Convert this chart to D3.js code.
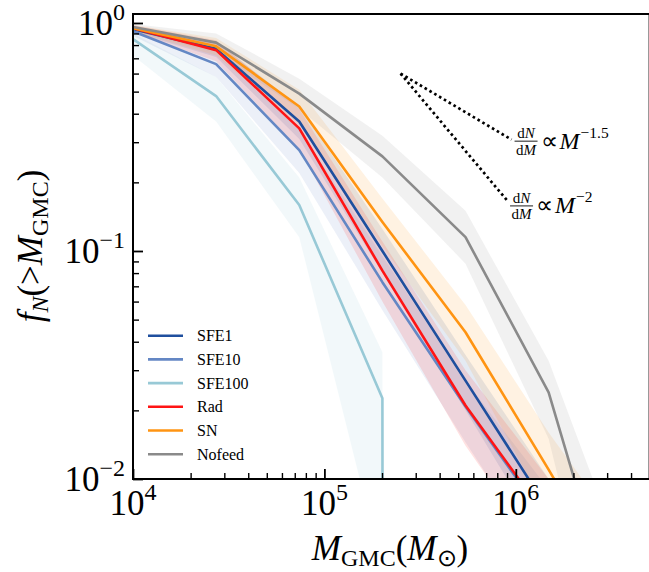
<!DOCTYPE html>
<html><head><meta charset="utf-8">
<script src="https://cdn.jsdelivr.net/npm/d3@7"></script>
<style>
body{margin:0;background:#fff}
svg{display:block}
text{font-family:"Liberation Serif","Times New Roman",serif;fill:#000}
</style>
</head><body><svg id="c" width="649" height="572"></svg>
<script>
// ---- data ----
const masses = [1.0e4, 2.718e4, 7.389e4, 2.009e5, 5.46e5, 1.484e6, 4.034e6];
const seriesNames = ["SFE1", "SFE10", "SFE100", "Rad", "SN", "Nofeed"];
const seriesColors = ["#1f4f9e", "#6487c4", "#98c9d6", "#ff1414", "#ff9412", "#8a8a8a"];

const sfe1   = [0.94, 0.77, 0.37, 0.100, 0.027, 0.0073, 0.002];
const sfe1Lo = [0.91, 0.71, 0.31, 0.080, 0.020, 0.0050, 0.001];
const sfe1Hi = [0.97, 0.83, 0.43, 0.125, 0.035, 0.0100, 0.003];

const sfe10   = [0.92, 0.66, 0.277, 0.073, 0.0208, 0.0064, 0.0018];
const sfe10Lo = [0.88, 0.58, 0.220, 0.055, 0.0145, 0.0040, 0.0010];
const sfe10Hi = [0.96, 0.74, 0.340, 0.095, 0.0270, 0.0090, 0.0030];

const sfe100   = [0.85, 0.478, 0.159, 0.0226, 0, 0, 0];
const sfe100Lo = [0.72, 0.370, 0.115, 0.0040, 0, 0, 0];
const sfe100Hi = [0.90, 0.580, 0.210, 0.0360, 0, 0, 0];

const rad   = [0.95, 0.76, 0.345, 0.082, 0.021, 0.0066, 0.002];
const radLo = [0.91, 0.68, 0.280, 0.060, 0.014, 0.0042, 0.001];
const radHi = [0.98, 0.84, 0.420, 0.110, 0.030, 0.0100, 0.004];

const sn   = [0.95, 0.79, 0.43, 0.134, 0.044, 0.011, 0.0026];
const snLo = [0.92, 0.72, 0.36, 0.105, 0.033, 0.007, 0.0010];
const snHi = [0.98, 0.86, 0.51, 0.170, 0.058, 0.016, 0.0050];

const nofeed   = [0.96, 0.82, 0.49, 0.26, 0.115, 0.024, 0.0014];
const nofeedLo = [0.93, 0.74, 0.42, 0.21, 0.088, 0.015, 0.0005];
const nofeedHi = [0.99, 0.90, 0.57, 0.32, 0.150, 0.033, 0.0035];

const seriesValues = [sfe1, sfe10, sfe100, rad, sn, nofeed];
const seriesLo = [sfe1Lo, sfe10Lo, sfe100Lo, radLo, snLo, nofeedLo];
const seriesHi = [sfe1Hi, sfe10Hi, sfe100Hi, radHi, snHi, nofeedHi];

const xMajor = [1e4, 1e5, 1e6];
const xMajorExp = ["4", "5", "6"];
const yMajor = [1, 0.1, 0.01];
const yMajorExp = ["0", "\u22121", "\u22122"];

// power-law reference lines: start point and end mass, slope of cumulative
const refStart = [2.5e5, 0.6];
const refEnds = [9.5e5, 9.0e5];
const refSlopes = [-0.5, -1.0];
const refExpLabels = ["\u22121.5", "\u22122"];

// ---- layout ----
const svg = d3.select("#c");
const L = 133, T = 14, B = 479, R = 649.6;
const x = d3.scaleLog().domain([1e4, 5e6]).range([L, R]);
const y = d3.scaleLog().domain([0.01, 1.095]).range([B, T]);
const yv = v => y(Math.max(v, 1e-300));

svg.append("defs").append("clipPath").attr("id", "clip")
  .append("rect").attr("x", L).attr("y", T).attr("width", R - L).attr("height", B - T);

const plot = svg.append("g").attr("clip-path", "url(#clip)");

// bands
seriesNames.forEach((n, i) => {
  const area = d3.area()
    .x((d, j) => x(masses[j]))
    .y0((d, j) => yv(seriesLo[i][j]))
    .y1((d, j) => yv(seriesHi[i][j]));
  plot.append("path").attr("d", area(masses))
    .attr("fill", seriesColors[i]).attr("fill-opacity", 0.12).attr("stroke", "none");
});
// lines
seriesNames.forEach((n, i) => {
  const line = d3.line().x((d, j) => x(masses[j])).y((d, j) => yv(seriesValues[i][j]));
  plot.append("path").attr("d", line(masses))
    .attr("fill", "none").attr("stroke", seriesColors[i]).attr("stroke-width", 2.6)
    .attr("stroke-linejoin", "round");
});

// reference dotted lines
const refEndPts = [];
refEnds.forEach((xe, k) => {
  const pts = [refStart, [xe, refStart[1] * Math.pow(xe / refStart[0], refSlopes[k])]];
  refEndPts.push(pts[1]);
  plot.append("path").attr("d", d3.line().x(d => x(d[0])).y(d => y(d[1]))(pts))
    .attr("fill", "none").attr("stroke", "#000").attr("stroke-width", 2.7)
    .attr("stroke-dasharray", "2.6,3");
});

// annotation text
refEndPts.forEach((p, k) => {
  const px = x(p[0]) + 3, py = y(p[1]) + (k === 0 ? 1.5 : 5.5);
  const g = svg.append("g").attr("transform", `translate(${px},${py})`);
  g.append("text").attr("x", 11.5).attr("y", -3).attr("text-anchor", "middle").attr("font-size", 15)
    .html('d<tspan font-style="italic">N</tspan>');
  g.append("line").attr("x1", 0).attr("x2", 23).attr("y1", 0).attr("y2", 0).attr("stroke", "#000").attr("stroke-width", 0.9);
  g.append("text").attr("x", 11.5).attr("y", 13.5).attr("text-anchor", "middle").attr("font-size", 15)
    .html('d<tspan font-style="italic">M</tspan>');
  const t = g.append("text").attr("x", 26).attr("y", 7.5).attr("font-size", 24);
  t.append("tspan").text("\u221D");
  t.append("tspan").attr("font-style", "italic").attr("dx", 2).text("M");
  t.append("tspan").attr("font-size", 15.5).attr("dy", -11).attr("dx", 1).text(refExpLabels[k]);
});

// axes ticks (inward)
const xMinor = [];
[1e4, 1e5, 1e6].forEach(d => { for (let m = 2; m <= 9; m++) { const v = d * m; if (v < 5e6) xMinor.push(v); } });
const yMinor = [];
[0.01, 0.1].forEach(d => { for (let m = 2; m <= 9; m++) yMinor.push(d * m); });

const axB = svg.append("g").attr("transform", `translate(0,${B})`);
axB.call(d3.axisBottom(x).tickValues(xMajor).tickSize(-10).tickFormat(""));
axB.call(g => g.selectAll(".tick line").attr("stroke-width", 1.8));
const axBm = svg.append("g").attr("transform", `translate(0,${B})`);
axBm.call(d3.axisBottom(x).tickValues(xMinor).tickSize(-6).tickFormat(""));
axBm.call(g => g.selectAll(".tick line").attr("stroke-width", 1.4));

const axL = svg.append("g").attr("transform", `translate(${L},0)`);
axL.call(d3.axisLeft(y).tickValues(yMajor).tickSize(-10).tickFormat(""));
axL.call(g => g.selectAll(".tick line").attr("stroke-width", 1.8));
const axLm = svg.append("g").attr("transform", `translate(${L},0)`);
axLm.call(d3.axisLeft(y).tickValues(yMinor).tickSize(-6).tickFormat(""));
axLm.call(g => g.selectAll(".tick line").attr("stroke-width", 1.4));
svg.selectAll(".domain").remove();

// spines
svg.append("rect").attr("x", L).attr("y", T).attr("width", R - L).attr("height", B - T)
  .attr("fill", "none").attr("stroke", "#000").attr("stroke-width", 2);

// tick labels
xMajor.forEach((v, i) => {
  const t = svg.append("text").attr("x", x(v)).attr("y", 515).attr("text-anchor", "middle").attr("font-size", 35);
  t.append("tspan").text("10");
  t.append("tspan").attr("font-size", 24).attr("dy", -15).text(xMajorExp[i]);
});
yMajor.forEach((v, i) => {
  const t = svg.append("text").attr("x", 125).attr("y", y(v) + 12).attr("text-anchor", "end").attr("font-size", 35);
  t.append("tspan").text("10");
  t.append("tspan").attr("font-size", 24).attr("dy", -15).text(yMajorExp[i]);
});

// axis labels
const xl = svg.append("text").attr("x", 390).attr("y", 560).attr("text-anchor", "middle").attr("font-size", 35);
xl.append("tspan").attr("font-style", "italic").text("M");
xl.append("tspan").attr("font-size", 24).attr("dy", 6).text("GMC");
xl.append("tspan").attr("dy", -6).text("(");
xl.append("tspan").attr("font-style", "italic").text("M");
xl.append("tspan").attr("font-size", 24).attr("dy", 6).text("\u2299");
xl.append("tspan").attr("dy", -6).text(")");

const yl = svg.append("text").attr("transform", "translate(42,246) rotate(-90)").attr("text-anchor", "middle").attr("font-size", 35);
yl.append("tspan").attr("font-style", "italic").text("f");
yl.append("tspan").attr("font-style", "italic").attr("font-size", 24).attr("dy", 6).text("N");
yl.append("tspan").attr("dy", -6).text("(>");
yl.append("tspan").attr("font-style", "italic").text("M");
yl.append("tspan").attr("font-size", 24).attr("dy", 6).text("GMC");
yl.append("tspan").attr("dy", -6).text(")");

// legend
const lg = svg.append("g");
seriesNames.forEach((n, i) => {
  const yy = 335.7 + i * 23.7;
  lg.append("line").attr("x1", 148).attr("x2", 183).attr("y1", yy).attr("y2", yy)
    .attr("stroke", seriesColors[i]).attr("stroke-width", 2.6);
  lg.append("text").attr("x", 197).attr("y", yy + 5.5).attr("font-size", 16).text(n);
});
</script>
</body></html>
